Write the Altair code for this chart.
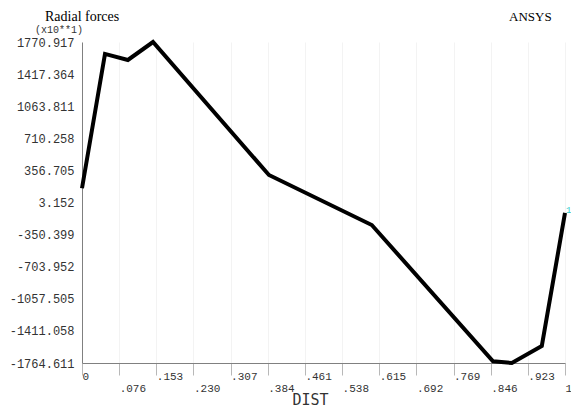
import altair as alt
import pandas as pd

# Data
dist = [0.0, 0.0476, 0.095, 0.147, 0.387, 0.600, 0.851, 0.890, 0.952, 1.0]
force = [160, 1640, 1573, 1770.917, 306, -245, -1745, -1764.611, -1577, -112]

y_ticks = [1770.917, 1417.364, 1063.811, 710.258, 356.705, 3.152,
           -350.399, -703.952, -1057.505, -1411.058, -1764.611]
x_ticks = [0, 0.0769, 0.1538, 0.2308, 0.3077, 0.3846, 0.4615, 0.5385,
           0.6154, 0.6923, 0.7692, 0.8462, 0.9231, 1]
x_labels = ["0", ".076", ".153", ".230", ".307", ".384", ".461", ".538",
            ".615", ".692", ".769", ".846", ".923", "1"]

df = pd.DataFrame({"DIST": dist, "F": force})

vals_js = "[" + ",".join(str(v) for v in x_ticks) + "]"
labs_js = "[" + ",".join("'" + s + "'" for s in x_labels) + "]"
idx = f"indexof({vals_js}, datum.value)"
lbl = f"{labs_js}[{idx}]"
x_label_expr = f"{idx} % 2 == 1 ? ['', {lbl}] : {lbl}"

x_axis = alt.Axis(
    values=x_ticks, labelExpr=x_label_expr, title="DIST",
    labelFont="Liberation Mono", labelFontSize=11, labelColor="#333333",
    labelAlign="left", labelBaseline="top", labelPadding=-5, labelLineHeight=12,
    labelOverlap=False, labelFlush=False, labelBound=False,
    tickSize=12, tickColor="#b8b8b8", domainColor="#808080",
    grid=True, gridColor="#f3f3f3",
    titleFont="DejaVu Sans Mono", titleFontSize=15, titleFontWeight="normal",
    titleColor="#333333", titleX=228, titleY=41, titleAlign="center",
    titleBaseline="alphabetic",
)
y_axis = alt.Axis(
    values=y_ticks, labelExpr="replace(format(datum.value, '.3f'), '\u2212', '-')",
    title=None, tickSize=0, labelPadding=8,
    labelFont="Liberation Mono", labelFontSize=12, labelColor="#333333",
    domainColor="#808080", grid=False, labelOverlap=False, labelFlush=False,
    labelBound=False,
)

x_enc = alt.X("DIST:Q", scale=alt.Scale(domain=[0, 1], nice=False, zero=False), axis=x_axis)
y_enc = alt.Y("F:Q", scale=alt.Scale(domain=[-1764.611, 1770.917], nice=False, zero=False), axis=y_axis)

line = alt.Chart(df).mark_line(color="black", strokeWidth=4, strokeJoin="miter").encode(x=x_enc, y=y_enc)

end_label = alt.Chart(df).transform_filter("datum.DIST == 1").mark_text(
    text="1", color="#33cccc", fontSize=9, align="left", dx=1, dy=-3, font="Liberation Mono"
).encode(x=x_enc, y=y_enc)

ann = pd.DataFrame({"t": ["Radial forces", "(x10**1)", "ANSYS"]})

t1 = alt.Chart(ann).transform_filter("datum.t == 'Radial forces'").mark_text(
    font="Liberation Serif", fontSize=14, align="left", baseline="alphabetic", color="black"
).encode(text="t:N", x=alt.value(-37), y=alt.value(-21))
t2 = alt.Chart(ann).transform_filter("datum.t == '(x10**1)'").mark_text(
    font="Liberation Mono", fontSize=10, align="left", baseline="alphabetic", color="#333333"
).encode(text="t:N", x=alt.value(-47), y=alt.value(-9))
t3 = alt.Chart(ann).transform_filter("datum.t == 'ANSYS'").mark_text(
    font="Liberation Serif", fontSize=13, align="left", baseline="alphabetic", color="black"
).encode(text="t:N", x=alt.value(427), y=alt.value(-21))

chart = alt.layer(line, end_label, t1, t2, t3).properties(
    width=483, height=321,
    autosize=alt.AutoSizeParams(type="none"),
    padding={"left": 74, "top": 34, "right": 6, "bottom": 46},
    background="white",
).configure_view(stroke=None).configure_axis(labelOverlap=False)

chart.save("out.html", embed_options={"renderer": "svg", "actions": False})
